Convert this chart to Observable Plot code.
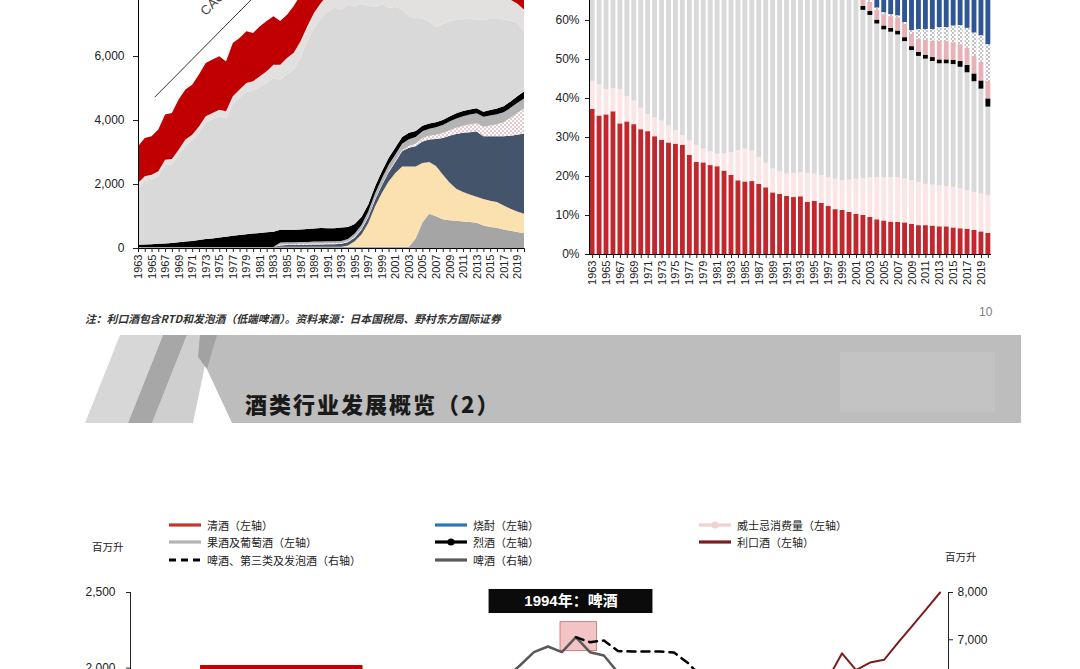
<!DOCTYPE html>
<html><head><meta charset="utf-8">
<script src="https://cdn.jsdelivr.net/npm/d3@7"></script>
<script src="https://cdn.jsdelivr.net/npm/@observablehq/plot@0.6"></script>
<style>
html,body{margin:0;padding:0;background:#fff;}
body{width:1080px;height:669px;overflow:hidden;position:relative;font-family:"Liberation Sans",Arial,sans-serif;}
.abs{position:absolute;}
.cjk{font-family:"Noto Sans CJK SC","Liberation Sans",sans-serif;}
.leg{position:absolute;font-size:11px;line-height:16px;color:#222;white-space:nowrap;font-family:"Noto Sans CJK SC",sans-serif;}
</style></head><body>
<svg width="0" height="0" style="position:absolute"><defs>
<pattern id="dotsPink" patternUnits="userSpaceOnUse" width="4" height="4"><rect width="4" height="4" fill="#ffffff"/><circle cx="1" cy="1" r="0.75" fill="#c77a80"/><circle cx="3" cy="3" r="0.75" fill="#c77a80"/></pattern>
<pattern id="dotsGrey" patternUnits="userSpaceOnUse" width="4" height="4"><rect width="4" height="4" fill="#ffffff"/><circle cx="1" cy="1" r="0.7" fill="#555"/><circle cx="3" cy="3" r="0.7" fill="#555"/></pattern>
</defs></svg>

<div id="tl" class="abs" style="left:0;top:-72px;width:535px"></div>
<div id="tr" class="abs" style="left:540px;top:-136px;width:461px"></div>

<div class="abs cjk" style="left:85px;top:310px;font-size:10.8px;font-style:italic;font-weight:700;color:#333;">注：利口酒包含RTD和发泡酒（低端啤酒）。资料来源：日本国税局、野村东方国际证券</div>
<div class="abs" style="left:979px;top:305px;font-size:12px;color:#808080">10</div>

<svg class="abs" style="left:0;top:335px" width="1080" height="88">
  <polygon points="200,0 1021,0 1021,88 232,88 205,30" fill="#bdbdbd"/>
  <rect x="840" y="17" width="155" height="60" fill="#c3c3c3"/>
  <polygon points="187,0 200,0 205,30 193,88 152,88" fill="#cfcfcf"/>
  <polygon points="120,0 163,0 128,88 85,88" fill="#d7d7d7"/>
  <polygon points="163,0 187,0 152,88 128,88" fill="#a7a7a7"/>
  <polygon points="200,0 217,0 207,34 198,22" fill="#a2a2a2"/>
</svg>
<div class="abs cjk" style="left:245px;top:388px;font-size:22px;font-weight:900;letter-spacing:2px;color:#1a1a1a;line-height:30px">酒类行业发展概览（2）</div>

<div id="legend"></div>
<div class="abs cjk" style="left:92px;top:539px;font-size:10.5px;color:#222">百万升</div>
<div class="abs cjk" style="left:945px;top:549px;font-size:10.5px;color:#222">百万升</div>
<div id="bc" class="abs" style="left:0;top:572px;width:1008px"></div>

<script>
// ---------- shared categories ----------
const years = d3.range(1963, 2021);

// ---------- top-left: volume by category (million litres), stacked ----------
const volOther = [30,30,30,30,30,30,30,30,30,30, 30,30,30,30,30,30,30,30,30,30, 30,40,40,40,40,40,40,40,40,40, 40,40,40,40,40,40,40,40,40,40, 40,300,800,1070,990,900,870,850,830,810, 790,700,660,630,580,540,500,460];
const volHapposhu = [0,0,0,0,0,0,0,0,0,0, 0,0,0,0,0,0,0,0,0,0, 0,0,0,0,0,0,0,0,0,0, 0,40,170,380,740,1260,1680,2040,2300,2510, 2510,2250,1860,1620,1570,1400,1180,1000,920,860, 810,830,820,810,750,690,640,610];
const volLiqueur = [0,0,0,0,0,0,0,0,0,0, 0,0,0,0,0,0,0,0,0,0, 0,40,50,50,60,60,70,70,80,80, 90,100,120,150,180,200,230,280,350,470, 580,630,670,700,850,1140,1460,1710,1850,1950, 2040,1960,2010,2050,2160,2280,2400,2510];
const volSpirits = [0,0,0,0,0,0,0,0,0,0, 0,0,0,0,0,0,0,0,0,0, 0,30,30,30,30,30,30,30,30,30, 30,30,30,30,30,30,30,30,30,40, 60,80,110,120,130,150,170,200,220,240, 260,300,340,380,440,560,680,780];
const volFruit = [0,0,0,0,0,0,0,0,0,0, 0,0,0,0,0,0,0,0,0,0, 0,60,60,60,60,60,60,60,60,60, 60,70,90,120,150,170,190,200,200,200, 210,210,210,220,230,250,270,290,300,310, 310,310,310,310,310,310,310,310];
const volWhisky = [70,80,90,100,110,130,150,170,190,220, 250,270,300,320,350,380,400,420,440,460, 480,400,390,390,385,400,410,425,410,405, 420,380,300,250,220,220,220,220,220,210, 200,190,170,160,160,160,160,160,160,160, 160,160,170,180,190,200,210,220];
const volBeer = [1780,1980,2020,2110,2460,2450,2720,3010,3140,3360, 3650,3720,3790,3700,4130,4290,4460,4460,4570,4660, 4800,4690,4850,5010,5385,5860,6260,6535,6760,6895, 6800,6960,6800,6660,6200,5620,5230,4690,4390,3990, 3640,3530,3350,3190,2970,3000,2970,2940,2870,2830, 2770,2870,2850,2800,2720,2520,2300,1830];
const volShochu = [150,150,150,160,160,170,170,180,180,190, 190,200,200,220,230,250,270,300,330,370, 420,470,520,520,500,480,480,500,520,540, 560,580,600,620,640,660,680,700,720,740, 760,910,930,970,1050,950,870,800,800,790, 810,770,790,790,760,660,600,730];
const volSake = [1150,1200,1200,1300,1410,1440,1570,1560,1560,1620, 1660,1670,1670,1560,1670,1610,1610,1510,1560,1570, 1510,1360,1350,1460,1450,1430,1390,1380,1370,1320, 1270,1250,1240,1220,1130,1050,1000,960,920,860, 800,720,700,690,670,630,610,590,600,580, 580,560,560,540,530,510,490,420];
const volNames = ["其他酿造酒","发泡酒","利口酒","烈酒","果酒","威士忌","啤酒","烧酎","清酒"];
const volColors = ["#a5a5a5","#fbe0b0","#44546a","url(#dotsPink)","#b4b4b4","#000000","#d9d9d9","#e3e0e0","#c00000"];
const volSeries = [volOther,volHapposhu,volLiqueur,volSpirits,volFruit,volWhisky,volBeer,volShochu,volSake];
const volTicks = [0,2000,4000,6000,8000];
const cagrLine = [{x1:1965.4, y1:4730, x2:1990, y2:9990}];
const cagrLabel = [{year:1972.5, value:7350, text:"CAGR：+4.6%"}];

// ---------- top-right: share by category (%) ----------
const shSake = [37.2,35.5,35.8,36.6,33.5,34.0,33.3,32.0,31.5,30.2, 29.3,28.6,28.3,28.0,25.4,23.6,23.5,22.8,22.5,21.4, 20.3,18.9,18.6,18.7,18.0,17.1,15.8,15.4,14.9,14.6, 14.8,13.4,13.6,13.1,12.3,11.5,11.3,10.8,10.3,10.0, 9.5,8.9,8.6,8.3,8.2,8.1,7.7,7.4,7.4,7.3, 7.1,7.1,6.8,6.6,6.5,6.2,5.8,5.4];
const shShochu = [7.2,8.0,6.5,5.9,8.8,6.5,6.0,5.5,4.4,4.8, 4.9,4.4,3.4,2.5,3.7,4.4,3.5,3.5,3.2,4.4, 5.8,7.7,8.4,7.8,6.9,6.3,6.1,5.8,5.7,6.2, 6.2,7.4,7.0,7.1,7.4,7.8,7.6,8.3,9.0,9.5, 10.2,10.8,11.1,11.4,11.5,11.2,11.2,11.1,10.6,10.5, 10.5,10.3,10.4,10.2,9.8,9.7,9.7,9.7];
const shBeer = [48,50,51,52,53,55,57,59,60,61, 62,62,63,63,64,65,66,66,66,66, 66,65,65,66,68,69,70,71,71,71, 71,71,70,69,67,62,58,54,48,43.1, 41.6,39.4,37.9,37.3,36.6,35.3,33.4,32.3,32.1,31.7, 31.3,31.5,31.5,31.2,30.3,28.4,26.9,22.7];
const shWhisky = [2.0,2.0,2.1,2.2,2.3,2.4,2.5,2.6,2.7,2.8, 2.9,3.0,3.0,3.1,3.2,3.3,3.3,3.4,3.4,3.4, 3.5,3.2,3.0,2.8,2.6,2.4,2.2,2.0,1.9,1.8, 1.7,1.6,1.5,1.4,1.3,1.2,1.2,1.1,1.1,1.0, 1.0,1.0,1.0,1.0,1.0,1.0,1.0,1.0,1.0,1.0, 1.0,1.0,1.1,1.5,1.9,2.0,2.1,2.1];
const shFruit = [0.3,0.3,0.3,0.3,0.3,0.4,0.4,0.4,0.5,0.5, 0.5,0.6,0.6,0.7,0.8,0.9,1.0,1.0,1.0,1.1, 1.1,1.2,1.2,1.2,1.3,1.3,1.4,1.4,1.5,1.5, 1.5,1.6,1.8,2.0,2.4,2.6,2.2,2.0,2.1,2.2, 2.4,2.6,2.9,3.0,3.4,3.4,3.1,3.4,3.8,4.2, 4.7,4.7,4.5,4.3,4.4,4.5,4.8,4.5];
const shSpirits = [0.5,0.5,0.5,0.5,0.5,0.5,0.5,0.5,0.5,0.5, 0.5,0.5,0.5,0.5,0.5,0.5,0.5,0.5,0.5,0.5, 0.5,0.5,0.5,0.5,0.5,0.5,0.5,0.5,0.5,0.5, 0.5,0.5,0.5,0.5,0.5,0.5,0.5,0.5,0.5,0.5, 0.5,0.5,0.5,0.5,0.5,0.5,1.0,2.5,2.8,3.0, 3.6,3.6,4.3,4.9,5.1,6.0,6.8,9.4];
const shLiqueur = [0.2,0.2,0.2,0.2,0.2,0.3,0.3,0.3,0.3,0.3, 0.4,0.4,0.4,0.4,0.5,0.5,0.5,0.6,0.6,0.6, 0.7,0.7,0.8,0.8,0.8,0.9,0.9,1.0,1.0,1.0, 1.0,1.2,1.4,1.6,1.8,2.0,2.2,2.4,2.5,2.5, 3,5,7,9,11,13,15,18,20,21, 22,22,22,23,25,27,29,32];
const shNames = ["清酒","烧酎","啤酒","威士忌","果酒","烈酒","利口酒"];
const shColors = ["#c1272d","#fbe5e5","#d9d9d9","#000000","#e6b2b7","url(#dotsGrey)","#2f5694"];
const shSeries = [shSake,shShochu,shBeer,shWhisky,shFruit,shSpirits,shLiqueur];
const shTicks = [0,10,20,30,40,50,60,70,80,90,100];

// ---------- bottom: lines (left axis 0-2500, right axis 0-8000) ----------
const beerYears = [1985,1986,1987,1988,1989,1990,1991,1992,1993,1994,1995,1996,1997,1998,1999,2000];
const beerVol = [4930,5150,5550,5950,6200,6455,6737,6857,6737,7054,6737,6667,6307,5900,5600,5300];
const beerAllYears = [1994,1995,1996,1997,1998,1999,2000,2001,2002,2003,2004,2005];
const beerAllVol = [7054,6948,6984,6762,6751,6751,6751,6730,6508,6200,6100,6000];
const liqYears = [2008,2009,2010,2011,2012,2013,2014,2015,2016,2017,2018,2019,2020];
const liqVol = [1500,1600,1700,1800,1930,2098,1987,2037,2055,2169,2278,2389,2500];
const leftTicks = [0,500,1000,1500,2000,2500];
const rightTicks = [0,1000,2000,3000,4000,5000,6000,7000,8000];
const rightMax = 8000, leftMax = 2500;
const peakHighlight = [{x1:1992.9, x2:1995.5, y1:2112, y2:2304}];
const labelBeer = [{x1:1987.8, x2:1999.5, y1:2361, y2:2520, label:"1994年：啤酒"}];
const labelSake = [{x1:1967.2, x2:1978.8, y1:1858, y2:2017, label:"1973年：清酒"}];

const legendItems = [
  {label:"清酒（左轴）", color:"#c0392b", col:0, row:0},
  {label:"烧酎（左轴）", color:"#2e75b6", col:1, row:0},
  {label:"威士忌消费量（左轴）", color:"#f2cfd0", col:2, row:0, marker:true},
  {label:"果酒及葡萄酒（左轴）", color:"#b3b3b3", col:0, row:1},
  {label:"烈酒（左轴）", color:"#000000", col:1, row:1, marker:true},
  {label:"利口酒（左轴）", color:"#7b1e1e", col:2, row:1},
  {label:"啤酒、第三类及发泡酒（右轴）", color:"#000000", col:0, row:2, dash:true},
  {label:"啤酒（右轴）", color:"#595959", col:1, row:2}
];

const fmt = d3.format(",");
const oddLabel = d => ((d - 1963) % 2 ? "" : String(d));
const baseStyle = {fontFamily:"'Liberation Sans', Arial, sans-serif", fontSize:"11px", color:"#222", background:"transparent", overflow:"visible"};

const volRows = volNames.flatMap((s, i) => volSeries[i].map((v, j) => ({year: years[j], series: s, value: v})));
const shRows = shNames.flatMap((s, i) => shSeries[i].map((v, j) => ({year: years[j], series: s, value: v})));

const tl = Plot.plot({
  width: 535, height: 365, marginLeft: 138, marginRight: 11, marginTop: 0, marginBottom: 45,
  style: baseStyle,
  x: {domain: [1963, 2020]},
  y: {domain: [0, 10000]},
  color: {domain: volNames, range: volColors},
  marks: [
    Plot.areaY(volRows, {x: "year", y: "value", fill: "series"}),
    Plot.link(cagrLine, {x1: "x1", y1: "y1", x2: "x2", y2: "y2", stroke: "#333", strokeWidth: 1}),
    Plot.text(cagrLabel, {x: "year", y: "value", text: "text", rotate: -45, textAnchor: "start", fontSize: 13, fill: "#444"}),
    Plot.ruleX([1963], {stroke: "#000"}),
    Plot.ruleY([0], {stroke: "#000"}),
    Plot.axisY({ticks: volTicks, tickFormat: fmt, tickSize: 5, tickPadding: 9, label: null, fontSize: 12}),
    Plot.axisX({ticks: years, tickFormat: oddLabel, tickRotate: -90, tickSize: 4, tickPadding: 2, label: null, fontSize: 11})
  ]
});
document.getElementById("tl").append(tl);

const tr = Plot.plot({
  width: 461, height: 435, marginLeft: 49, marginRight: 10, marginTop: 0, marginBottom: 45,
  style: baseStyle,
  x: {type: "band", domain: years, paddingInner: 0.3, paddingOuter: 0.1},
  y: {domain: [0, 100]},
  color: {domain: shNames, range: shColors},
  marks: [
    Plot.barY(shRows, {x: "year", y: "value", fill: "series"}),
    Plot.ruleY([0], {stroke: "#000"}),
    Plot.frame({anchor: "left", stroke: "#000"}),
    Plot.axisY({ticks: shTicks, tickFormat: d => d + "%", tickSize: 4, tickPadding: 6, label: null, fontSize: 12}),
    Plot.axisX({tickFormat: oddLabel, tickRotate: -90, tickSize: 4, tickPadding: 2, label: null, fontSize: 11})
  ]
});
document.getElementById("tr").append(tr);

const toLeft = v => v * leftMax / rightMax;
const bc = Plot.plot({
  width: 1008, height: 428, marginLeft: 130, marginRight: 60, marginTop: 20, marginBottom: 30,
  style: {...baseStyle, fontSize: "12px"},
  x: {domain: [1962.2, 2020.6]},
  y: {domain: [0, leftMax]},
  marks: [
    Plot.rect(peakHighlight, {x1: "x1", x2: "x2", y1: "y1", y2: "y2", fill: "#f3c4c5", stroke: "#c9686b", strokeWidth: 0.8}),
    Plot.lineY(beerYears.map((y, i) => ({year: y, value: beerVol[i]})), {x: "year", y: d => toLeft(d.value), stroke: "#595959", strokeWidth: 2.5}),
    Plot.lineY(beerAllYears.map((y, i) => ({year: y, value: beerAllVol[i]})), {x: "year", y: d => toLeft(d.value), stroke: "#000", strokeWidth: 2.5, strokeDasharray: "8,6"}),
    Plot.lineY(liqYears.map((y, i) => ({year: y, value: liqVol[i]})), {x: "year", y: "value", stroke: "#7b1e1e", strokeWidth: 2}),
    Plot.rect(labelBeer, {x1: "x1", x2: "x2", y1: "y1", y2: "y2", fill: "#0b0b0b"}),
    Plot.rect(labelSake, {x1: "x1", x2: "x2", y1: "y1", y2: "y2", fill: "#c00000"}),
    Plot.text([...labelBeer, ...labelSake], {x: d => (d.x1 + d.x2) / 2, y: d => (d.y1 + d.y2) / 2, text: "label", fill: "#fff", fontWeight: "bold", fontSize: 15, fontFamily: "'Liberation Sans','Noto Sans CJK SC',sans-serif"}),
    Plot.ruleX([1962.2], {stroke: "#222"}),
    Plot.ruleX([2020.6], {stroke: "#222"}),
    Plot.axisY({ticks: leftTicks, tickFormat: fmt, tickSize: 4, tickPadding: 11, label: null, anchor: "left"}),
    Plot.axisY(rightTicks, {anchor: "right", y: toLeft, tickFormat: fmt, tickSize: 4, tickPadding: 5, label: null})
  ]
});
document.getElementById("bc").append(bc);

// legend (HTML)
const legend = document.getElementById("legend");
const colX = [168, 434, 698], rowY = [525, 542, 560];
for (const it of legendItems) {
  const x = colX[it.col], y = rowY[it.row];
  const sw = document.createElementNS("http://www.w3.org/2000/svg", "svg");
  sw.setAttribute("width", 34); sw.setAttribute("height", 12);
  sw.style.position = "absolute"; sw.style.left = x + "px"; sw.style.top = (y - 6) + "px";
  sw.innerHTML = `<line x1="1" y1="6" x2="33" y2="6" stroke="${it.color}" stroke-width="3.2" ${it.dash ? 'stroke-dasharray="7,5"' : ''}/>` +
    (it.marker ? `<circle cx="17" cy="6" r="3.6" fill="${it.color}"/>` : "");
  legend.append(sw);
  const t = document.createElement("div");
  t.className = "leg"; t.textContent = it.label;
  t.style.left = (x + 39) + "px"; t.style.top = (y - 8) + "px";
  legend.append(t);
}
</script>
</body></html>
